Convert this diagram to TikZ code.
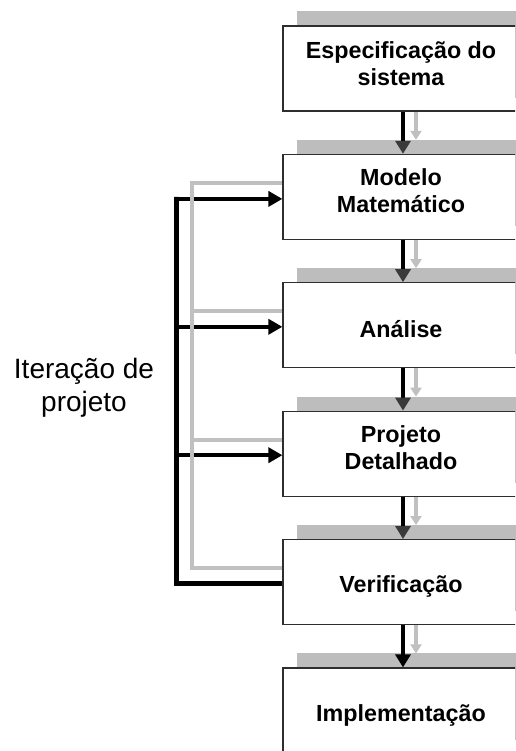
\documentclass[tikz,border=0pt]{standalone}
\usepackage{fontspec}
\setmainfont{Liberation Sans}
\usetikzlibrary{arrows.meta,calc,backgrounds}
\definecolor{bargray}{HTML}{BDBDBD}
\definecolor{linegray}{HTML}{C0C0C0}
\definecolor{edgegray}{HTML}{2E2E2E}
\definecolor{headgray}{HTML}{3A3A3A}
\tikzset{
  stage/.style={draw=edgegray, line width=1.2pt, fill=white, minimum width=236pt, minimum height=85pt,
    inner sep=0pt},
  stagetext/.style={inner sep=0pt, align=center, font=\fontsize{23.3pt}{27pt}\selectfont\bfseries},
  downblack/.style={line width=4.5pt, -{Triangle[width=15pt,length=13pt,color=headgray]}},
  downblacklast/.style={line width=4.5pt, -{Triangle[width=15pt,length=13pt]}},
  downgray/.style={draw=linegray, line width=3.5pt, -{Triangle[width=11pt,length=9pt]}},
  loopblack/.style={line width=4.5pt},
  looparrow/.style={line width=4.5pt, -{Triangle[width=15pt,length=14pt]}},
  loopgray/.style={draw=linegray, line width=4pt},
  lbl/.style={align=center, font=\fontsize{28pt}{33pt}\selectfont}
}
\begin{document}
\begin{tikzpicture}[x=1pt,y=-1pt]
\useasboundingbox (0,0) rectangle (515,751);
\clip (0,0) rectangle (515,751);
\node[stage] (b1) at (401,68.5) {};
\node[stage] (b2) at (401,196.9) {};
\node[stage] (b3) at (401,325.3) {};
\node[stage] (b4) at (401,453.7) {};
\node[stage] (b5) at (401,582.1) {};
\node[stage] (b6) at (401,710.5) {};
\node[stagetext] (t1) at ($(b1.center)+(0,-5)$) {Especificação do\\sistema};
\node[stagetext] (t2) at ($(b2.center)+(0,-6)$) {Modelo\\Matemático};
\node[stagetext] (t3) at ($(b3.center)+(0,4)$) {Análise};
\node[stagetext] (t4) at ($(b4.center)+(0,-6)$) {Projeto\\Detalhado};
\node[stagetext] (t5) at ($(b5.center)+(0,4.5)$) {Verificação};
\node[stagetext] (t6) at ($(b6.center)+(0,4.5)$) {Implementação};
\begin{scope}[on background layer]
  \foreach \b in {b1,b2,b3,b4,b5,b6}{
    \fill[bargray] ($(\b.south west)+(15,-14)$) rectangle ($(\b.north east)+(15,-14)$);
  }
\end{scope}
% downward arrows
\foreach \a/\b in {b1/b2,b2/b3,b3/b4,b4/b5}{
  \draw[downblack] ($(\a.south)+(2,0)$) -- ($(\b.north)+(2,0)$);
  \draw[downgray] ($(\a.south)+(15,0)$) -- ($(\b.north)+(15,-14)$);
}
\draw[downblacklast] ($(b5.south)+(2,0)$) -- ($(b6.north)+(2,0)$);
\draw[downgray] ($(b5.south)+(15,0)$) -- ($(b6.north)+(15,-14)$);
% feedback loop
\coordinate (kb) at ($(b5.west)+(-106,1.5)$);
\coordinate (kg) at ($(b5.west)+(-90,-14)$);
\draw[loopblack] ($(b5.west)+(0,1.5)$) -- (kb) -- (kb |- b2.west) -- ++(0,2.25);
\draw[looparrow] ($(kb |- b2.west)+(0,2)$) -- ($(b2.west)+(0,2)$);
\draw[looparrow] ($(kb |- b3.west)+(0,1.5)$) -- ($(b3.west)+(0,1.5)$);
\draw[looparrow] ($(kb |- b4.west)+(0,1.5)$) -- ($(b4.west)+(0,1.5)$);
\draw[loopgray] ($(b5.west)+(0,-14)$) -- (kg) -- ($(kg |- b2.west)+(0,-14)$) -- ($(b2.west)+(0,-14)$);
\draw[loopgray] ($(kg |- b3.west)+(0,-14)$) -- ($(b3.west)+(0,-14)$);
\draw[loopgray] ($(kg |- b4.west)+(0,-14)$) -- ($(b4.west)+(0,-14)$);
\node[lbl] (lab) at (84,388) {Iteração de\\projeto};
\end{tikzpicture}
\end{document}
